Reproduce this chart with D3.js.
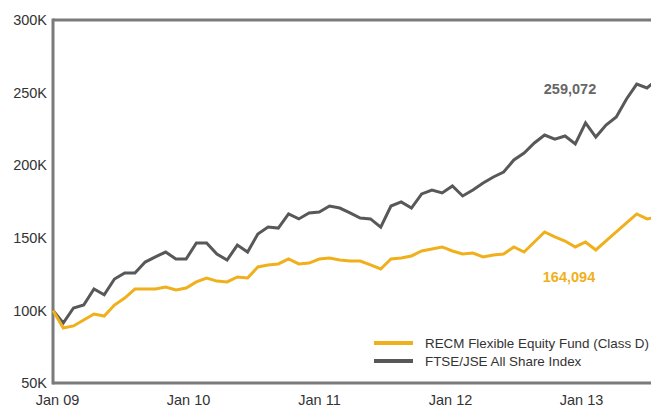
<!DOCTYPE html>
<html>
<head>
<meta charset="utf-8">
<script src="https://cdn.jsdelivr.net/npm/d3@7"></script>
<style>
  html, body { margin: 0; padding: 0; background: #fff; }
  svg { display: block; font-family: "Liberation Sans", Arial, Helvetica, sans-serif; }
</style>
</head>
<body>
<svg id="chart" width="651" height="408"></svg>
<script>
// ---- data (values in thousands) ----
const indexValues = [100, 91.3, 101.7, 103.7, 114.7, 110.7, 121.6, 125.8, 125.8, 133.3,
  136.8, 140.2, 135.4, 135.4, 146.4, 146.4, 138.8, 134.7, 145.0, 140.2,
  152.6, 157.4, 156.7, 166.4, 163.0, 167.1, 167.8, 171.9, 170.5, 167.1,
  163.6, 163.0, 157.4, 171.9, 174.7, 170.5, 180.2, 182.9, 180.9, 185.7,
  178.8, 182.9, 187.7, 191.9, 195.3, 203.6, 208.4, 215.3, 220.8, 218.0,
  220.1, 214.6, 229.1, 219.4, 227.7, 233.2, 245.6, 255.9, 253.2, 259.072];
const fundValues = [100, 87.9, 89.3, 93.4, 97.5, 96.1, 103.7, 108.5, 114.7, 114.7,
  114.7, 116.1, 114.1, 115.4, 119.6, 122.3, 120.2, 119.6, 123.0, 122.3,
  129.9, 131.3, 132.0, 135.4, 132.0, 132.6, 135.4, 136.1, 134.7, 134.0,
  134.0, 131.3, 128.5, 135.4, 136.1, 137.5, 140.9, 142.3, 143.7, 140.9,
  138.8, 139.5, 136.8, 138.2, 138.8, 143.7, 140.2, 147.1, 154.0, 150.6,
  147.8, 143.7, 147.1, 141.6, 147.8, 154.0, 160.2, 166.4, 163.0, 164.094];
const xTickLabels = ["Jan 09", "Jan 10", "Jan 11", "Jan 12", "Jan 13"];
const yTicks = [50, 100, 150, 200, 250, 300];
const seriesNames = ["RECM Flexible Equity Fund (Class D)", "FTSE/JSE All Share Index"];
const endLabels = ["164,094", "259,072"];

// ---- layout ----
const W = 651, H = 408;
const mLeft = 53, mTop = 20, mBottom = 383;
const colFund = "#f0b01c", colIndex = "#58585a", colAxis = "#7b7b7b";

const svg = d3.select("#chart");

const x = d3.scaleLinear().domain([0, 58]).range([mLeft, 647]);
const y = d3.scaleLinear().domain([50, 300]).range([mBottom, mTop]);
const xLab = d3.scalePoint().domain(xTickLabels).range([57, 581]);

// frame lines
const frame = svg.append("g").attr("stroke", colAxis).attr("stroke-width", 3).attr("fill", "none");
frame.append("line").attr("x1", mLeft).attr("x2", W + 2).attr("y1", y(300)).attr("y2", y(300));
frame.append("line").attr("x1", mLeft).attr("x2", W + 2).attr("y1", y(50)).attr("y2", y(50));
frame.append("line").attr("x1", mLeft).attr("x2", mLeft).attr("y1", y(300) - 1.5).attr("y2", y(50) + 1.5);

// y axis labels
const yAxis = svg.append("g").attr("transform", `translate(${mLeft},0)`)
  .call(d3.axisLeft(y).tickValues(yTicks).tickSize(0).tickPadding(6).tickFormat(d => d + "K"));
yAxis.select(".domain").remove();
yAxis.selectAll("text").attr("font-size", 14.5).attr("fill", "#333")
  .attr("font-family", "'Liberation Sans', Arial, sans-serif");

// x axis labels
const xAxis = svg.append("g").attr("transform", `translate(0,${mBottom})`)
  .call(d3.axisBottom(xLab).tickSize(0).tickPadding(12));
xAxis.select(".domain").remove();
xAxis.selectAll("text").attr("font-size", 14.5).attr("fill", "#333")
  .attr("font-family", "'Liberation Sans', Arial, sans-serif");

// lines
const line = d3.line().x((d, i) => x(i)).y(d => y(d));
svg.append("path").datum(indexValues).attr("d", line)
  .attr("fill", "none").attr("stroke", colIndex).attr("stroke-width", 3).attr("stroke-linejoin", "miter");
svg.append("path").datum(fundValues).attr("d", line)
  .attr("fill", "none").attr("stroke", colFund).attr("stroke-width", 3).attr("stroke-linejoin", "miter");

// end value labels
svg.append("text").attr("x", 570).attr("y", y(indexValues[indexValues.length - 1]) + 15)
  .attr("text-anchor", "middle").attr("font-weight", "bold").attr("font-size", 14.5)
  .attr("fill", "#666").text(endLabels[1]);
svg.append("text").attr("x", 569).attr("y", y(fundValues[fundValues.length - 1]) + 65)
  .attr("text-anchor", "middle").attr("font-weight", "bold").attr("font-size", 14.5)
  .attr("fill", colFund).text(endLabels[0]);

// legend
const legend = svg.append("g").attr("transform", "translate(374,343)");
[colFund, colIndex].forEach((c, i) => {
  const g = legend.append("g").attr("transform", `translate(0,${i * 18})`);
  g.append("line").attr("x1", 0).attr("x2", 39).attr("y1", 0).attr("y2", 0)
    .attr("stroke", c).attr("stroke-width", 4);
  g.append("text").attr("x", 51).attr("y", 0).attr("dy", "0.35em")
    .attr("font-size", 13.4).attr("fill", "#333").text(seriesNames[i]);
});
</script>
</body>
</html>
